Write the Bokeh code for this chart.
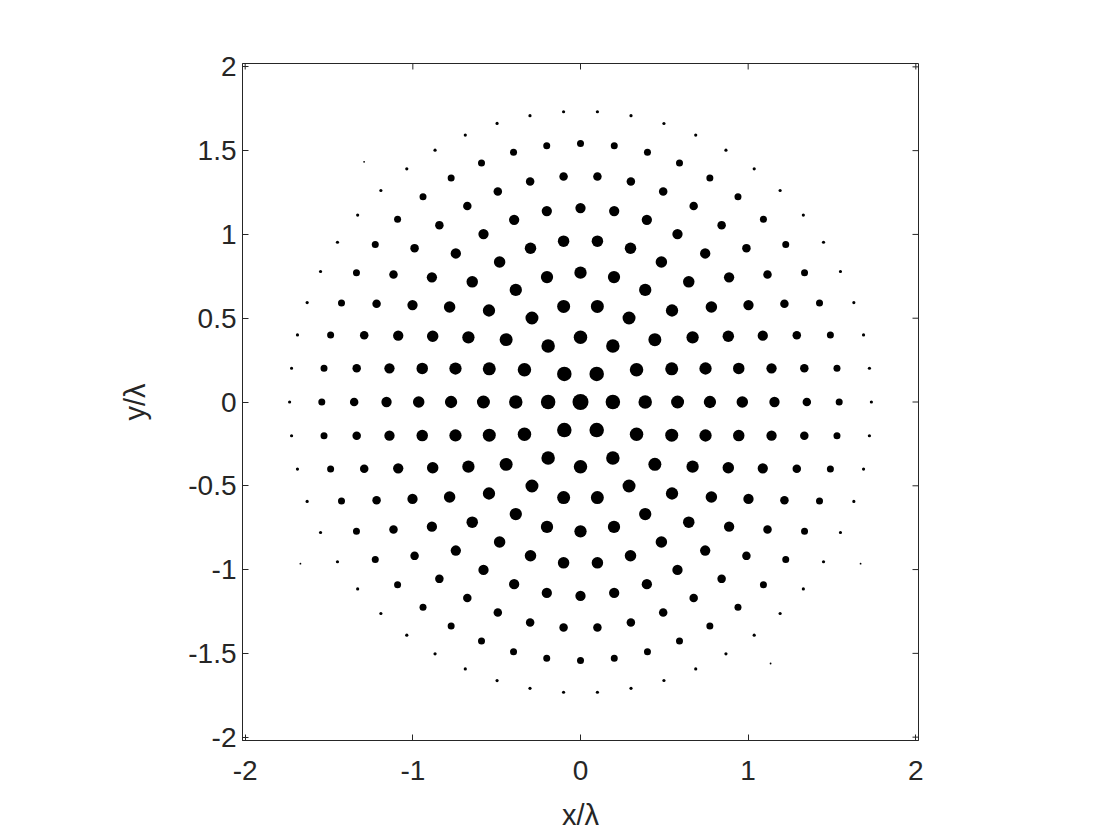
import math
from bokeh.plotting import figure
from bokeh.models import FixedTicker, Range1d, ColumnDataSource
from bokeh.embed import file_html
from bokeh.resources import INLINE

# ---- data (concentric hexagonal rings) ----
ring_radius = [0.0, 0.193, 0.386, 0.579, 0.772, 0.965, 1.157, 1.350, 1.543, 1.735, 1.929]
ring_count = [1, 6, 12, 18, 24, 30, 36, 42, 48, 54, 60]
ring_dot_px = [16.0, 14.5, 13.5, 13.0, 12.3, 11.5, 10.3, 8.5, 7.0, 3.2, 0.0]
# outermost ring: only a few elements are visible as specks
speck_deg = [132, 210, 306, 330]
speck_px = 1.8

x_ticks = [-2, -1, 0, 1, 2]
x_tick_labels = ["-2", "-1", "0", "1", "2"]
y_ticks = [-2, -1.5, -1, -0.5, 0, 0.5, 1, 1.5, 2]
y_tick_labels = ["-2", "-1.5", "-1", "-0.5", "0", "0.5", "1", "1.5", "2"]

X0, X1 = -2.016, 2.016
Y0, Y1 = -2.02, 2.02

xs, ys, ss = [], [], []
for r, n, s in zip(ring_radius, ring_count, ring_dot_px):
    if s <= 0:
        continue
    for k in range(n):
        a = 2 * math.pi * k / n
        xs.append(r * math.cos(a))
        ys.append(r * math.sin(a))
        ss.append(s)
for d in speck_deg:
    a = math.radians(d)
    xs.append(ring_radius[-1] * math.cos(a))
    ys.append(ring_radius[-1] * math.sin(a))
    ss.append(speck_px)

src = ColumnDataSource(dict(x=xs, y=ys, s=ss))

TXT = "#262626"
FONT = "Liberation Sans"

p = figure(frame_width=676, frame_height=677,
           min_border_left=242, min_border_right=186,
           min_border_top=63, min_border_bottom=90,
           x_range=Range1d(X0, X1), y_range=Range1d(Y0, Y1),
           output_backend="svg", toolbar_location=None,
           x_axis_label="x/λ", y_axis_label="y/λ")
p.background_fill_color = "white"
p.border_fill_color = "white"
p.xgrid.visible = False
p.ygrid.visible = False
p.outline_line_color = TXT
p.outline_line_width = 1

p.scatter("x", "y", size="s", source=src, marker="circle",
          fill_color="black", line_color=None)

def style(ax, ticks, labels):
    ax.ticker = FixedTicker(ticks=ticks)
    ax.major_label_overrides = {float(t): l for t, l in zip(ticks, labels)}
    ax.major_tick_in = 6
    ax.major_tick_out = 0
    ax.major_tick_line_color = TXT
    ax.minor_tick_line_color = None
    ax.axis_line_color = TXT
    ax.major_label_text_font = FONT
    ax.major_label_text_font_size = "28px"
    ax.major_label_text_color = TXT
    ax.axis_label_text_font = FONT
    ax.axis_label_text_font_size = "29px"
    ax.axis_label_text_font_style = "normal"
    ax.axis_label_text_color = TXT

style(p.xaxis[0], x_ticks, x_tick_labels)
style(p.yaxis[0], y_ticks, y_tick_labels)
p.xaxis[0].major_label_standoff = 20
p.xaxis[0].axis_label_standoff = 16
p.yaxis[0].major_label_standoff = 6
p.yaxis[0].axis_label_standoff = 34

# mirrored inward ticks on the top and right edges (box on)
p.ray(x=x_ticks, y=[Y1] * len(x_ticks), length=6, length_units="screen",
      angle=-math.pi / 2, line_color=TXT, line_width=1)
p.ray(x=[X1] * len(y_ticks), y=y_ticks, length=6, length_units="screen",
      angle=math.pi, line_color=TXT, line_width=1)

open("out.html", "w").write(file_html(p, INLINE))
